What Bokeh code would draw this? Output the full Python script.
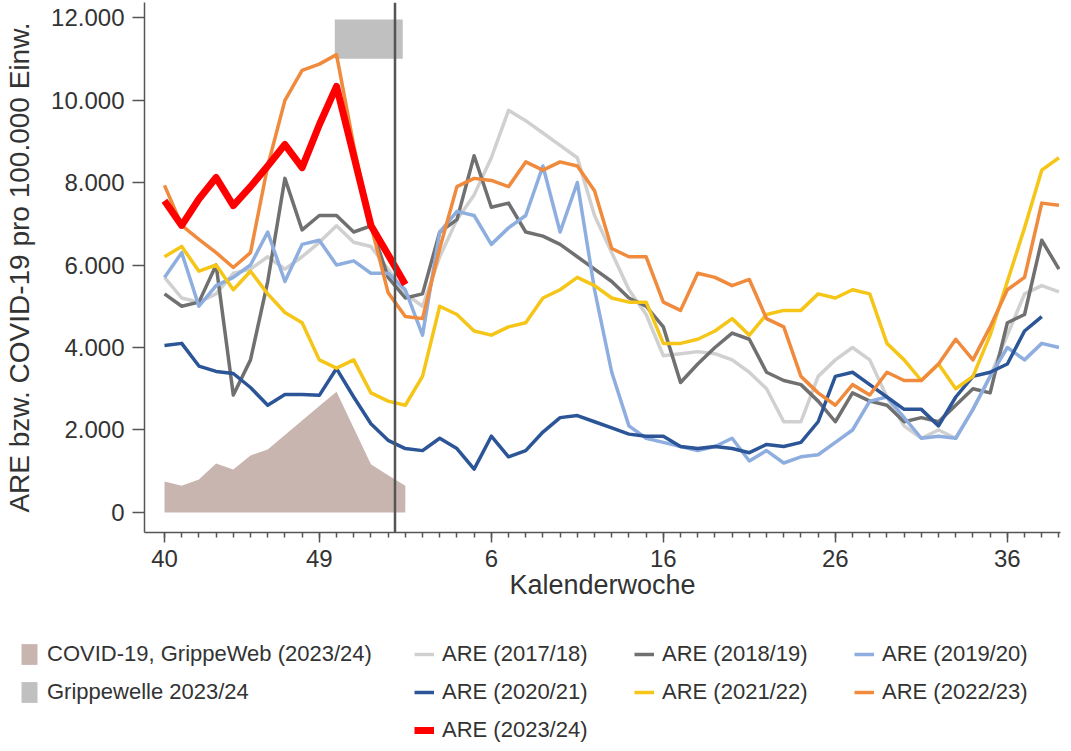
from bokeh.plotting import figure
from bokeh.layouts import column, row
from bokeh.models import Range1d, FixedTicker, Span, Legend, LegendItem, ColumnDataSource
from bokeh.embed import file_html
from bokeh.resources import INLINE

# Calendar weeks on the x axis (season week 40 .. week 39, incl. week 53)
kw = list(range(40, 54)) + list(range(1, 40))
tick_weeks = [40, 49, 6, 16, 26, 36]
y_ticks = [0, 2000, 4000, 6000, 8000, 10000, 12000]

are_2017_18 = [5700, 5200, 5100, 5300, 5800, 5900, 6200, 5900, 6200, 6550, 6950, 6550, 6450, 5900, 5300,
               5000, 6200, 7100, 7700, 8600, 9750, 9500, 9200, 8900, 8600, 7200, 6300, 5400, 4800, 3800,
               3850, 3900, 3850, 3700, 3400, 3000, 2200, 2200, 3300, 3700, 4000, 3700, 2800, 2100, 1800,
               2000, 1800, 2500, 3300, 4300, 5300, 5500, 5350]
are_2018_19 = [5300, 5000, 5100, 6000, 2850, 3700, 5600, 8100, 6850, 7200, 7200, 6800, 6950, 5700, 5200,
               5300, 6800, 7100, 8650, 7400, 7500, 6800, 6700, 6500, 6200, 5900, 5600, 5200, 5000, 4500,
               3150, 3600, 4000, 4350, 4200, 3400, 3200, 3100, 2700, 2200, 2900, 2700, 2600, 2200, 2300,
               2200, 2600, 3000, 2900, 4600, 4800, 6600, 5900]
are_2019_20 = [5700, 6300, 5000, 5500, 5700, 6000, 6800, 5600, 6500, 6600, 6000, 6100, 5800, 5800, 5400,
               4300, 6800, 7300, 7200, 6500, 6900, 7200, 8400, 6800, 8000, 5400, 3400, 2100, 1800, 1700,
               1600, 1500, 1600, 1800, 1250, 1500, 1200, 1350, 1400, 1700, 2000, 2700, 2800, 2300, 1800,
               1850, 1800, 2500, 3300, 4000, 3700, 4100, 4000]
are_2020_21 = [4050, 4100, 3550, 3420, 3370, 3030, 2600, 2860, 2860, 2840, 3490, 2800, 2150, 1750, 1550,
               1500, 1800, 1550, 1050, 1850, 1350, 1500, 1950, 2300, 2350, 2200, 2050, 1900, 1850, 1850,
               1600, 1550, 1600, 1550, 1450, 1650, 1600, 1700, 2200, 3300, 3400, 3100, 2800, 2500, 2500,
               2100, 2800, 3300, 3400, 3600, 4400, 4750]
are_2021_22 = [6200, 6450, 5850, 6000, 5400, 5850, 5300, 4850, 4600, 3700, 3500, 3700, 2900, 2700, 2600,
               3300, 5000, 4800, 4400, 4300, 4500, 4600, 5200, 5400, 5700, 5500, 5200, 5100, 5100, 4100,
               4100, 4200, 4400, 4700, 4300, 4800, 4900, 4900, 5300, 5200, 5400, 5300, 4100, 3700, 3200,
               3600, 3000, 3300, 4300, 5600, 6900, 8300, 8600]
are_2022_23 = [7930, 6960, 6620, 6300, 5940, 6300, 8400, 9990, 10720, 10870, 11100, 8900, 6960, 5330, 4750,
               4700, 6400, 7900, 8100, 8050, 7900, 8500, 8300, 8500, 8400, 7800, 6400, 6200, 6200, 5100,
               4900, 5800, 5700, 5500, 5650, 4700, 4500, 3300, 2900, 2600, 3100, 2850, 3400, 3200, 3200,
               3600, 4200, 3700, 4500, 5400, 5700, 7500, 7450]
are_2023_24 = [7560, 6960, 7600, 8120, 7440, 7900, 8400, 8920, 8360, 9400, 10330, 8650, 6960, 6250, 5530]
covid_2023_24 = [750, 650, 800, 1190, 1040, 1380, 1530, 1880, 2230, 2580, 2930, 2050, 1170, 900, 650]

grippewelle_start, grippewelle_end = 9.9, 13.85
grippewelle_low, grippewelle_high = 11000, 11950
current_pos = 13.4

FONT = "Liberation Sans"
TXT = "#333333"
AXC = "#555555"
COV_COL = "#c9b5b0"
GW_COL = "#c0c0c0"

series = [
    ("ARE (2017/18)", are_2017_18, "#d0d0d0", 3.5),
    ("ARE (2018/19)", are_2018_19, "#707070", 3.5),
    ("ARE (2019/20)", are_2019_20, "#8eaee0", 3.5),
    ("ARE (2020/21)", are_2020_21, "#2b5597", 3.5),
    ("ARE (2021/22)", are_2021_22, "#f5c518", 3.5),
    ("ARE (2022/23)", are_2022_23, "#f08a3c", 3.5),
    ("ARE (2023/24)", are_2023_24, "#ff0000", 7),
]


def xs(n):
    return list(range(n))


def draw_all(fig):
    src = ColumnDataSource(dict(x=xs(len(covid_2023_24)), y=covid_2023_24, y0=[0] * len(covid_2023_24)))
    r_cov = fig.varea(x="x", y1="y0", y2="y", source=src, fill_color=COV_COL)
    r_gw = fig.quad(left=[grippewelle_start], right=[grippewelle_end], bottom=[grippewelle_low],
                    top=[grippewelle_high], fill_color=GW_COL, line_color=None)
    rs = {}
    for name, vals, col, lw in series:
        rs[name] = fig.line(xs(len(vals)), vals, line_color=col, line_width=lw, line_join="round")
    rs["COVID-19, GrippeWeb (2023/24)"] = r_cov
    rs["Grippewelle 2023/24"] = r_gw
    return rs


p = figure(width=1063, height=622, output_backend="svg", toolbar_location=None,
           x_range=Range1d(-1.163, 52.09), y_range=Range1d(-485, 12364),
           min_border_left=144, min_border_right=3, min_border_top=2, min_border_bottom=90)
p.outline_line_color = None
p.xgrid.visible = False
p.ygrid.visible = False
draw_all(p)
p.add_layout(Span(location=current_pos, dimension="height", line_color=AXC, line_width=2.5))

xt = [kw.index(w) for w in tick_weeks]
p.xaxis.ticker = FixedTicker(ticks=xt, minor_ticks=list(range(len(kw))))
p.xaxis.major_label_overrides = {i: str(w) for i, w in zip(xt, tick_weeks)}
p.yaxis.ticker = FixedTicker(ticks=y_ticks, minor_ticks=[])
p.yaxis.major_label_overrides = {v: f"{v:,}".replace(",", ".") for v in y_ticks}
for ax in (p.xaxis[0], p.yaxis[0]):
    ax.axis_line_color = AXC
    ax.axis_line_width = 1.5
    ax.major_tick_line_color = AXC
    ax.major_tick_line_width = 1.5
    ax.minor_tick_line_color = AXC
    ax.minor_tick_line_width = 1.5
    ax.major_tick_in = 0
    ax.minor_tick_in = 0
    ax.minor_tick_out = 5
    ax.major_label_text_font = FONT
    ax.major_label_text_font_size = "24px"
    ax.major_label_text_color = TXT
    ax.axis_label_text_font = FONT
    ax.axis_label_text_color = TXT
    ax.axis_label_text_font_style = "normal"
p.xaxis.axis_label_text_font_size = "27px"
p.yaxis.axis_label_text_font_size = "28px"
p.xaxis.major_tick_out = 10
p.yaxis.major_tick_out = 12
p.xaxis.axis_label = "Kalenderwoche"
p.yaxis.axis_label = "ARE bzw. COVID-19 pro 100.000 Einw."
p.xaxis.major_label_standoff = 7
p.xaxis.axis_label_standoff = 0
p.yaxis.major_label_standoff = 8
p.yaxis.axis_label_standoff = 13

# legend strip: the same series drawn outside its visible range, so only the legends show
lg = figure(width=1063, height=121, output_backend="svg", toolbar_location=None,
            x_range=Range1d(0, 1), y_range=Range1d(-3, -2), x_axis_type=None, y_axis_type=None,
            min_border_left=0, min_border_right=0, min_border_top=0, min_border_bottom=0)
lg.outline_line_color = None
lg.xgrid.visible = False
lg.ygrid.visible = False
lr = draw_all(lg)

common = dict(padding=0, margin=0, spacing=12, glyph_width=20, glyph_height=26, label_height=26,
              label_standoff=8, label_text_font=FONT, label_text_font_size="22px",
              label_text_color=TXT, border_line_color=None, background_fill_alpha=0)
left_items = ["COVID-19, GrippeWeb (2023/24)", "Grippewelle 2023/24"]
are_items = ["ARE (2017/18)", "ARE (2018/19)", "ARE (2019/20)", "ARE (2020/21)",
             "ARE (2021/22)", "ARE (2022/23)", "ARE (2023/24)"]
leg_a = Legend(items=[LegendItem(label=lab, renderers=[lr[lab]]) for lab in left_items],
               orientation="vertical", location=(19, 38), **common)
leg_b = Legend(items=[LegendItem(label=lab, renderers=[lr[lab]]) for lab in are_items],
               orientation="horizontal", ncols=3, location=(414, 0), label_width=180, **common)
lg.add_layout(leg_a, "center")
lg.add_layout(leg_b, "center")

layout = column(p, row(lg), spacing=0)
open("out.html", "w").write(file_html(layout, INLINE))
